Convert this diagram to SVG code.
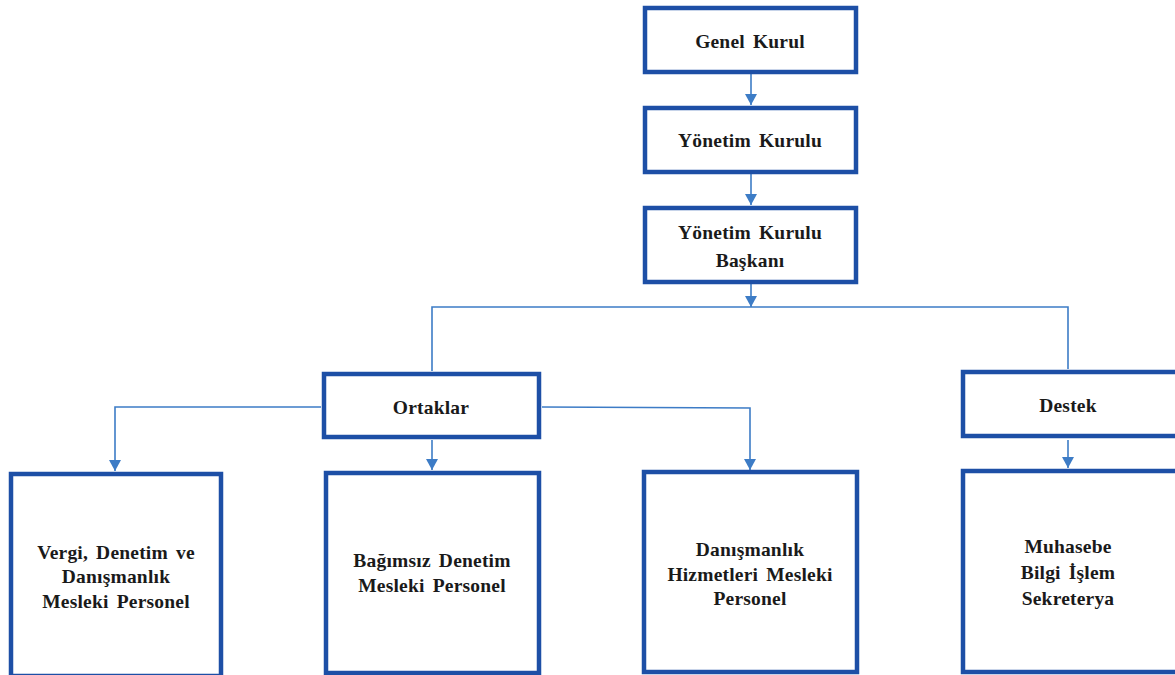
<svg xmlns="http://www.w3.org/2000/svg" width="1175" height="675" viewBox="0 0 1175 675">
<style>
.box{fill:#fff;stroke:#1d4fa6;stroke-width:4.5}
.c{fill:none;stroke:#3d7cc6;stroke-width:1.6}
text{font-family:"Liberation Serif","Times New Roman",serif;font-weight:bold;font-size:19.5px;fill:#1a1a1a;text-anchor:middle;word-spacing:3px;letter-spacing:0.2px}
</style>
<defs>
<marker id="ad" markerUnits="userSpaceOnUse" markerWidth="12" markerHeight="12" viewBox="0 0 12 12" refX="6" refY="12">
<path d="M0,1 L12,1 L6,12 Z" fill="#3d7cc6"/>
</marker>
</defs>
<rect width="1175" height="675" fill="#fff"/>
<g id="connectors">
<line class="c" x1="751" y1="73" x2="751" y2="105" marker-end="url(#ad)"/>
<line class="c" x1="751" y1="174" x2="751" y2="205" marker-end="url(#ad)"/>
<line class="c" x1="751" y1="284" x2="751" y2="307" marker-end="url(#ad)"/>
<polyline class="c" points="432,371 432,307 1068,307 1068,369"/>
<polyline class="c" points="321,407 115,407 115,471" marker-end="url(#ad)"/>
<line class="c" x1="432" y1="440" x2="432" y2="470" marker-end="url(#ad)"/>
<polyline class="c" points="542,407 750,408 750,470" marker-end="url(#ad)"/>
<line class="c" x1="1068" y1="440" x2="1068" y2="468" marker-end="url(#ad)"/>
</g>
<g id="genel-kurul">
<rect class="box" x="645" y="8" width="211" height="64"/>
<text x="750" y="48">Genel Kurul</text>
</g>
<g id="yonetim-kurulu">
<rect class="box" x="645" y="108" width="211" height="64"/>
<text x="750" y="147">Yönetim Kurulu</text>
</g>
<g id="yonetim-kurulu-baskani">
<rect class="box" x="645" y="208" width="211" height="74"/>
<text x="750" y="239">Yönetim Kurulu</text>
<text x="750" y="267">Başkanı</text>
</g>
<g id="ortaklar">
<rect class="box" x="324" y="374" width="215" height="63"/>
<text x="431" y="414">Ortaklar</text>
</g>
<g id="destek">
<rect class="box" x="963" y="372" width="216" height="64"/>
<text x="1068" y="412">Destek</text>
</g>
<g id="vergi">
<rect class="box" x="11" y="474" width="210" height="202"/>
<text x="116" y="559">Vergi, Denetim ve</text>
<text x="116" y="583">Danışmanlık</text>
<text x="116" y="608">Mesleki Personel</text>
</g>
<g id="bagimsiz">
<rect class="box" x="326" y="473" width="213" height="200"/>
<text x="432" y="567">Bağımsız Denetim</text>
<text x="432" y="592">Mesleki Personel</text>
</g>
<g id="danismanlik">
<rect class="box" x="644" y="472" width="213" height="200"/>
<text x="750" y="556">Danışmanlık</text>
<text x="750" y="581">Hizmetleri Mesleki</text>
<text x="750" y="605">Personel</text>
</g>
<g id="muhasebe">
<rect class="box" x="963" y="471" width="216" height="201"/>
<text x="1068" y="553">Muhasebe</text>
<text x="1068" y="579">Bilgi İşlem</text>
<text x="1068" y="605">Sekreterya</text>
</g>
</svg>
